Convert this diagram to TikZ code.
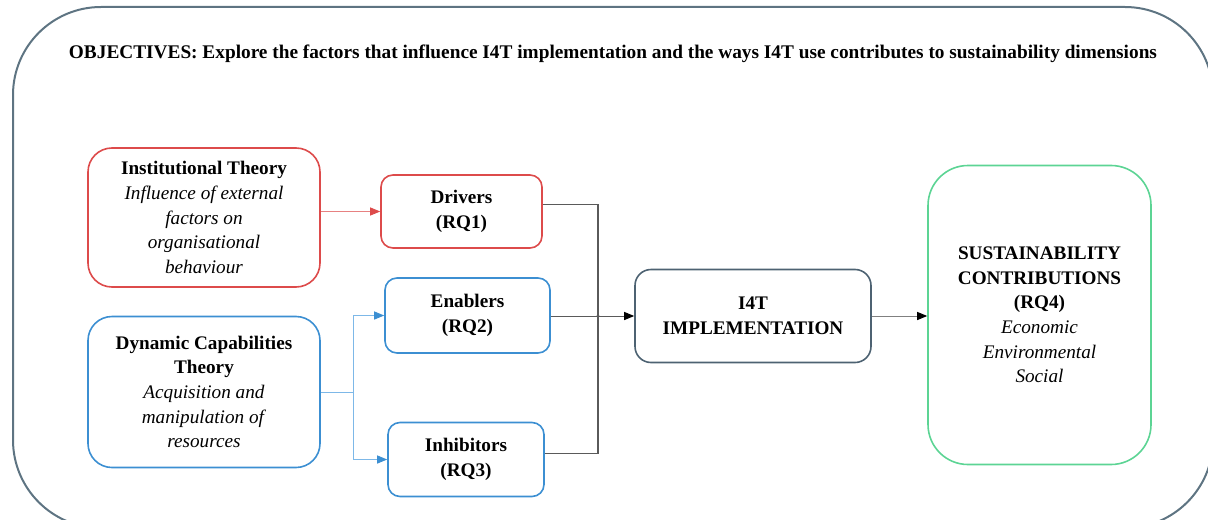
\documentclass[tikz,border=0pt]{standalone}
\usepackage{fontspec}
\setmainfont{Liberation Serif}
\usepackage{xcolor}
\usetikzlibrary{positioning,arrows.meta}
\definecolor{framegrey}{HTML}{5E7482}
\definecolor{instred}{HTML}{DD4B4B}
\definecolor{dynblue}{HTML}{3C8FD2}
\definecolor{linkblue}{HTML}{7DB8E8}
\definecolor{implslate}{HTML}{4D6272}
\definecolor{sustgreen}{HTML}{5CD494}
\definecolor{linkgrey}{HTML}{5A5A5A}

\begin{document}
\begin{tikzpicture}[x=0.5pt,y=-0.5pt,
  box/.style={draw,line width=0.8pt,align=center,inner sep=2pt,
              font=\fontsize{9.6}{12.3}\selectfont},
  theory/.style={box,rounded corners=12pt,minimum width=116pt},
  rq/.style={box,rounded corners=6pt,font=\fontsize{9.6}{12.3}\selectfont\bfseries},
  a/.style={-{Triangle[length=5pt,width=4pt]},line width=0.5pt}]
\useasboundingbox (0,0) rectangle (1208,519);
\begin{scope}
\clip (0,0) rectangle (1208,519);
\draw[framegrey,line width=1pt,rounded corners=44pt] (13,7) rectangle (1213,528);
\end{scope}
\node[font=\fontsize{9.65}{12}\selectfont\bfseries] (obj) at (613,54)
  {OBJECTIVES: Explore the factors that influence I4T implementation and the ways I4T use contributes to sustainability dimensions};
% theories
\node[theory,draw=instred,minimum height=69.5pt] (inst) at (204,217.5)
  {\textbf{Institutional Theory}\\\textit{Influence of external}\\\textit{factors on}\\\textit{organisational}\\\textit{behaviour}};
\node[theory,draw=dynblue,minimum height=75.5pt] (dyn) at (204,392)
  {\textbf{Dynamic Capabilities}\\\textbf{Theory}\\\textit{Acquisition and}\\\textit{manipulation of}\\\textit{resources}};
% research questions
\node[rq,draw=instred,minimum width=80.5pt,minimum height=36.5pt] (drv) at (461.5,211.5) {Drivers\\(RQ1)};
\node[rq,draw=dynblue,minimum width=82.5pt,minimum height=37.5pt] (enb) at (467.5,315.5) {Enablers\\(RQ2)};
\node[rq,draw=dynblue,minimum width=78pt,minimum height=37pt] (inh) at (466,459.5) {Inhibitors\\(RQ3)};
\node[rq,draw=implslate,rounded corners=8pt,minimum width=118pt,minimum height=46.5pt] (impl) at (753,316) {I4T\\IMPLEMENTATION};
\node[box,draw=sustgreen,rounded corners=20pt,minimum width=111.5pt,minimum height=149.5pt] (sust) at (1039.5,315)
  {\textbf{SUSTAINABILITY}\\\textbf{CONTRIBUTIONS}\\\textbf{(RQ4)}\\\textit{Economic}\\\textit{Environmental}\\\textit{Social}};
% connectors
\draw[a,instred!70,arrows={-{Triangle[length=5pt,width=4pt,fill=instred,color=instred]}}] (inst.east |- drv.west) -- (drv.west);
\coordinate[right=16.5pt of dyn.east] (split);
\draw[linkblue,line width=0.5pt] (dyn.east) -- (split);
\draw[a,linkblue,arrows={-{Triangle[length=5pt,width=4pt,fill=dynblue,color=dynblue]}}] (split) |- (enb.west);
\draw[a,linkblue,arrows={-{Triangle[length=5pt,width=4pt,fill=dynblue,color=dynblue]}}] (split) |- (inh.west);
\coordinate (merge) at (598,316);
\draw[linkgrey,line width=0.6pt] ([yshift=3.7pt]drv.east) -| (merge);
\draw[linkgrey,line width=0.6pt] ([yshift=3.2pt]inh.east) -| (merge);
\draw[a,linkgrey,arrows={-{Triangle[length=5pt,width=4pt,fill=black,color=black]}}] (enb.east |- merge) -- (impl.west |- merge);
\fill[linkgrey] (merge) circle (0.8pt);
\draw[a,gray,arrows={-{Triangle[length=5pt,width=4pt,fill=black,color=black]}}] (impl.east) -- (sust.west |- impl.east);
\end{tikzpicture}
\end{document}
